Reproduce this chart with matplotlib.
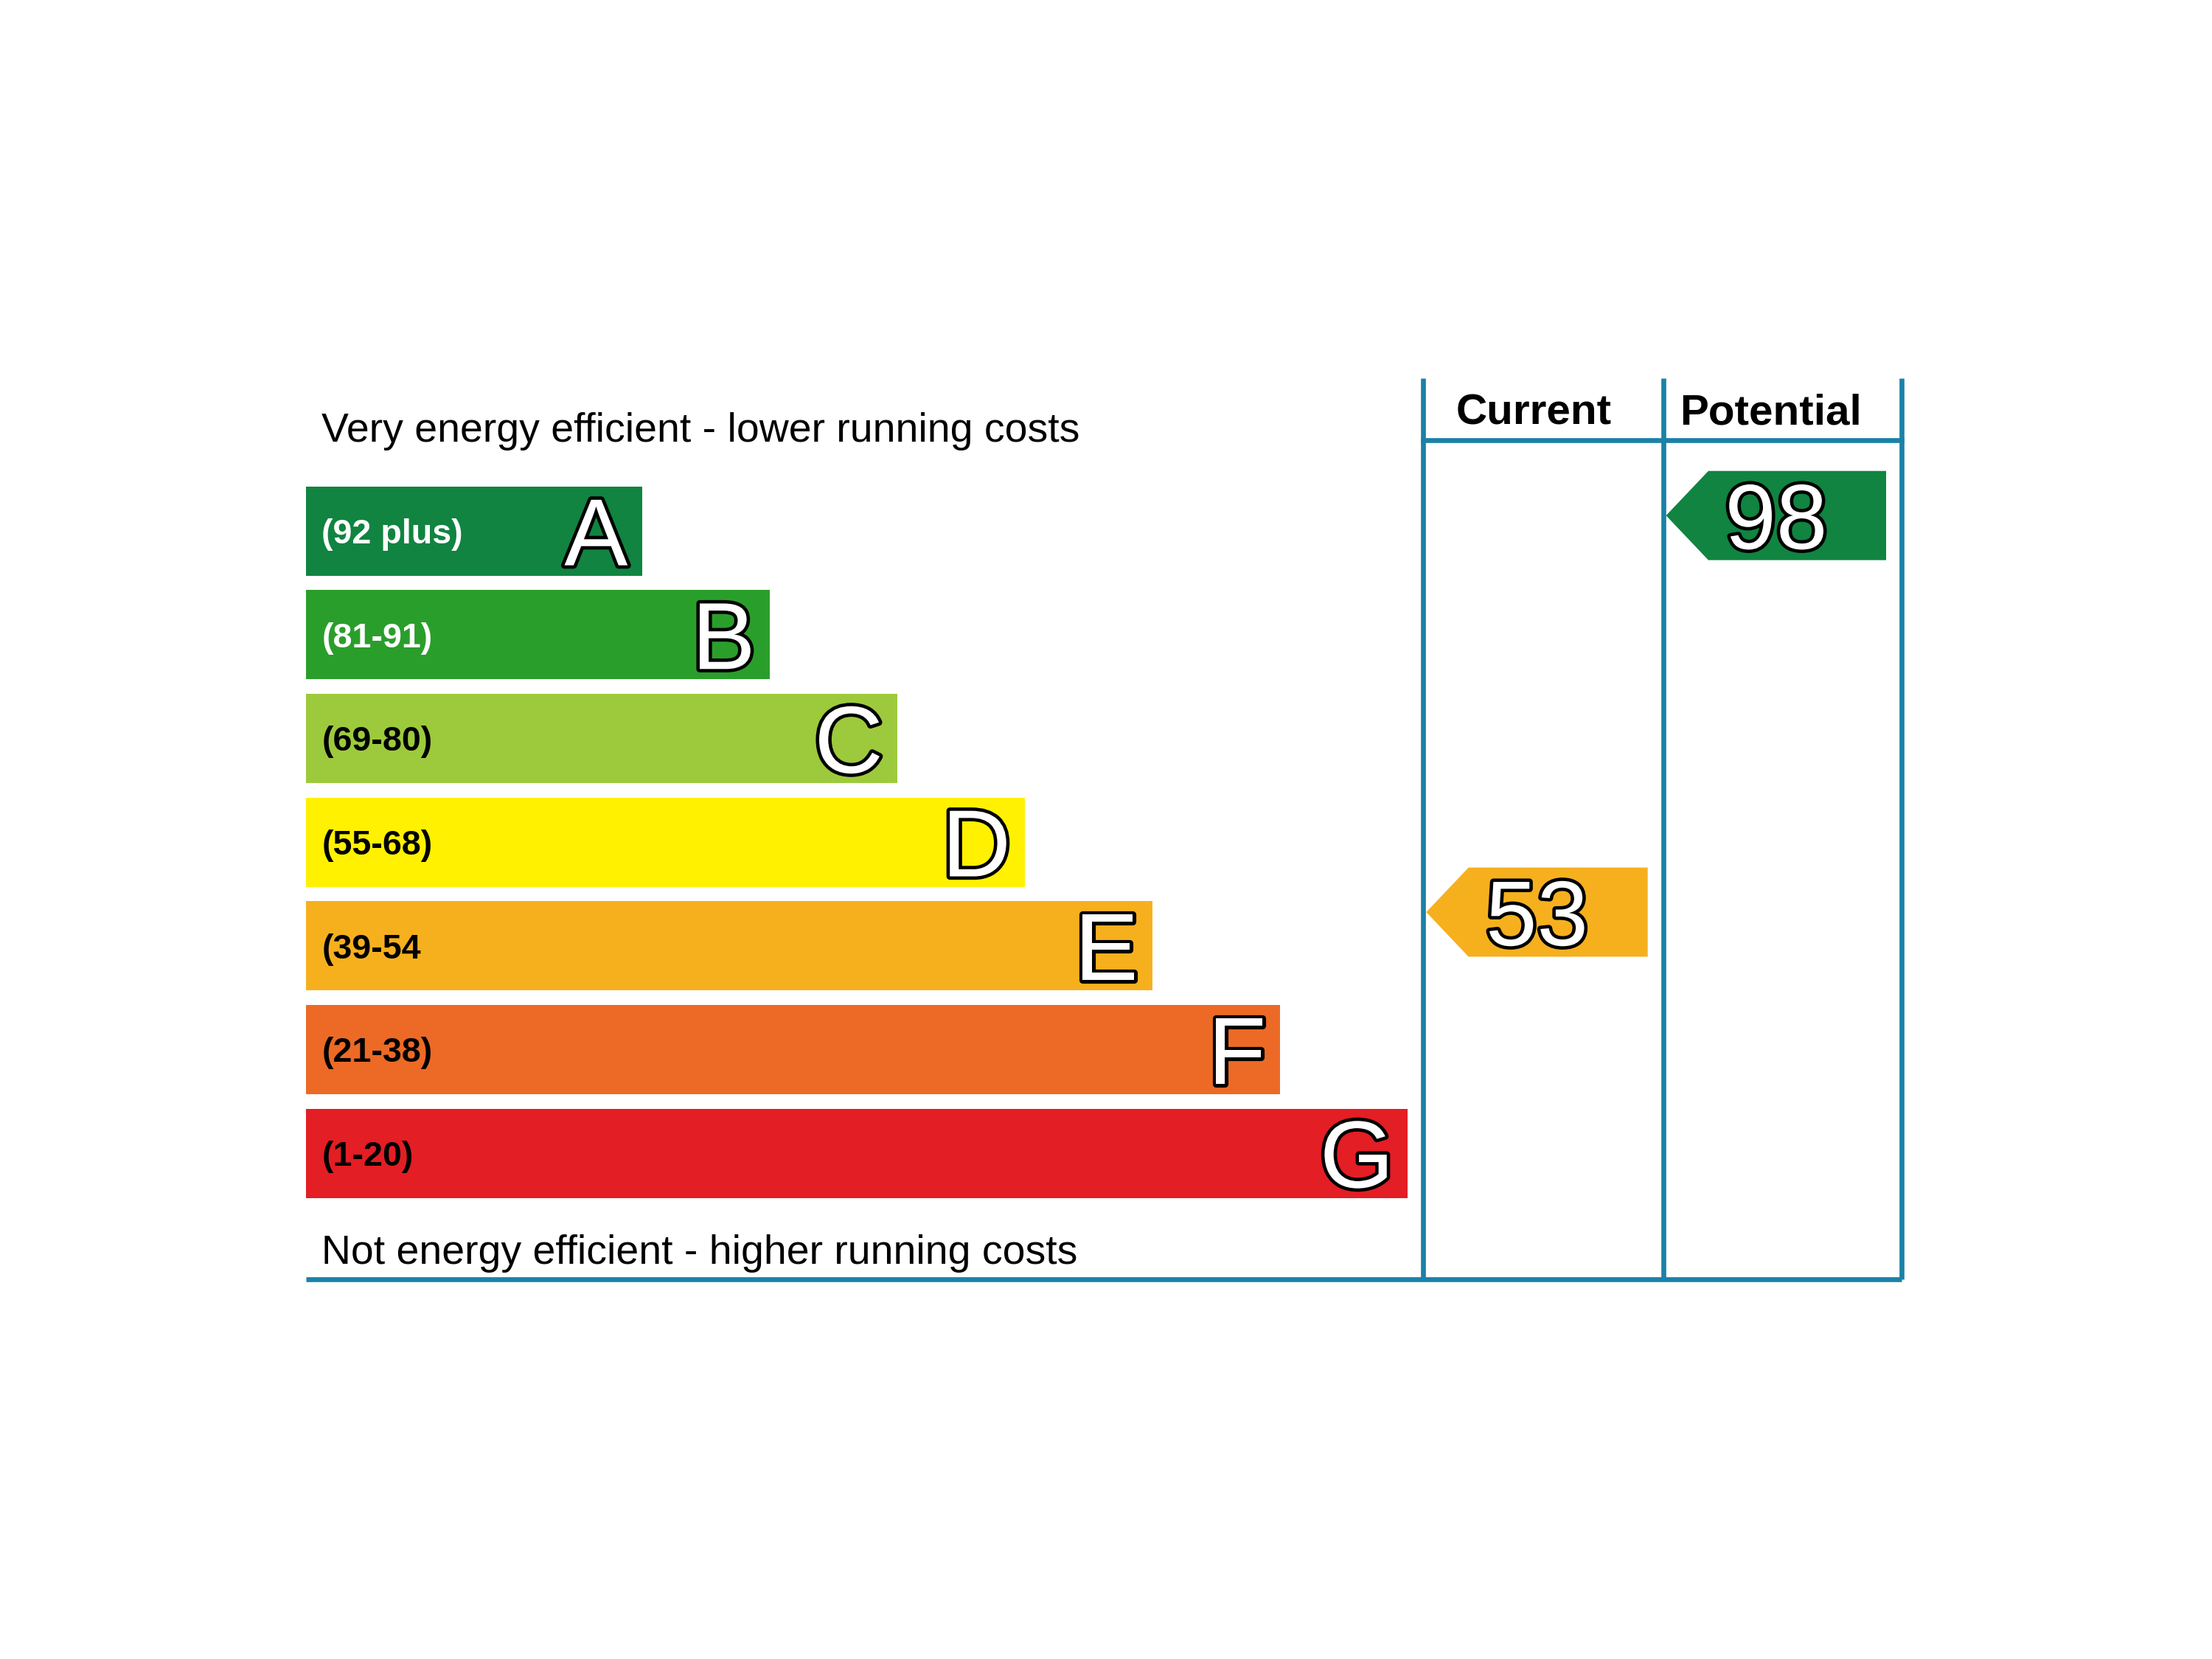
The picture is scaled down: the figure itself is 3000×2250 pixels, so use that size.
import matplotlib
matplotlib.use("Agg")
import matplotlib.pyplot as plt
import matplotlib.patheffects as pe

plt.rcParams["font.family"] = ["Liberation Sans", "DejaVu Sans"]

# ── data ─────────────────────────────────────────────────────────────────────
bands = ["A", "B", "C", "D", "E", "F", "G"]
ranges = ["(92 plus)", "(81-91)", "(69-80)", "(55-68)", "(39-54", "(21-38)", "(1-20)"]
band_colors = ["#108440", "#2a9e2b", "#9dca3c", "#fff100", "#f6b01e", "#ec6a25", "#e31e24"]
range_text_colors = ["white", "white", "black", "black", "black", "black", "black"]
current_score = 53
potential_score = 98
current_band = "E"
potential_band = "A"

TOP_TEXT = "Very energy efficient - lower running costs"
BOTTOM_TEXT = "Not energy efficient - higher running costs"
COLUMN_TITLES = ["Current", "Potential"]

# ── layout (x in chart units, y in band rows) ────────────────────────────────
TEAL = "#1b81a7"
LEFT = 217
BAR_BASE = 238
BAR_STEP = 90.5
BAR_H = 0.86
COL_X = [1009, 1179, 1348]
FRAME_TOP = -1.476
HEADER_Y = -0.878
FRAME_BOTTOM = 7.218
TIP = 30


def score_to_row(score):
    # arrow placement along the band scale
    return 8.18 - 0.085 * score


fig = plt.figure(figsize=(10, 7.5), dpi=300)
ax = fig.add_axes([0, 0, 1, 1])
ax.set_xlim(0, 1568)
ax.set_ylim(10.878, -5.122)
ax.axis("off")

# ── rating bars ──────────────────────────────────────────────────────────────
rows = list(range(len(bands)))
widths = [BAR_BASE + BAR_STEP * i for i in rows]
ax.barh(rows, widths, left=LEFT, height=BAR_H, color=band_colors, zorder=2)

outline = [pe.Stroke(linewidth=2.2, foreground="black"), pe.Normal()]
for i, (band, rng, tc, w) in enumerate(zip(bands, ranges, range_text_colors, widths)):
    ax.text(LEFT + 11, i + 0.12, rng, color=tc, fontsize=11.2, fontweight="bold",
            ha="left", va="baseline", zorder=3)
    ax.text(LEFT + w - 10, i + 0.33, band, color="white", fontsize=31,
            ha="right", va="baseline", path_effects=outline, zorder=3)

ax.text(LEFT + 11, -0.864, TOP_TEXT, fontsize=13.3, ha="left", va="baseline")
ax.text(LEFT + 11, 7.068, BOTTOM_TEXT, fontsize=13.3, ha="left", va="baseline")

# ── frame ────────────────────────────────────────────────────────────────────
lw = 1.6
for x in COL_X:
    ax.plot([x, x], [FRAME_TOP, FRAME_BOTTOM], color=TEAL, lw=lw, zorder=1,
            solid_capstyle="butt")
ax.plot([COL_X[0], COL_X[-1]], [HEADER_Y, HEADER_Y], color=TEAL, lw=lw, zorder=1)
ax.plot([LEFT, COL_X[-1]], [FRAME_BOTTOM, FRAME_BOTTOM], color=TEAL, lw=lw, zorder=1,
        solid_capstyle="butt")

title_x = [1087, 1255]
for tx, title in zip(title_x, COLUMN_TITLES):
    ax.text(tx, -1.027, title, fontsize=14, fontweight="bold", ha="center", va="baseline")


# ── score arrows ─────────────────────────────────────────────────────────────
def draw_arrow(col, score, band):
    color = band_colors[bands.index(band)]
    x0 = COL_X[col] + 2
    x1 = COL_X[col + 1] - 11
    yc = score_to_row(score)
    h = BAR_H / 2
    xs = [x0, x0 + TIP, x1, x1, x0 + TIP]
    ys = [yc, yc - h, yc - h, yc + h, yc + h]
    ax.fill(xs, ys, color=color, zorder=2, lw=0)
    ax.text((x0 + x1) / 2, yc + 0.32, str(score), color="white", fontsize=30,
            ha="center", va="baseline", path_effects=outline, zorder=3)


draw_arrow(0, current_score, current_band)
draw_arrow(1, potential_score, potential_band)

fig.savefig("out.png", dpi=300, facecolor="white")
